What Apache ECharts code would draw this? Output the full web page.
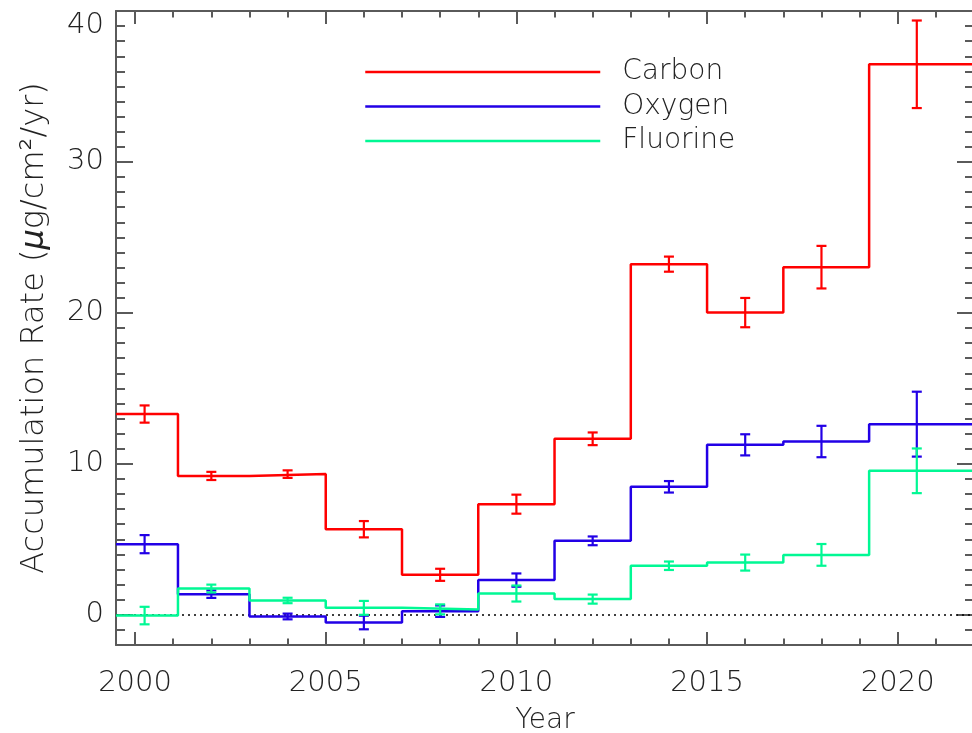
<!DOCTYPE html>
<html><head><meta charset="utf-8">
<script src="https://cdn.jsdelivr.net/npm/echarts@6/dist/echarts.min.js"></script>
<style>html,body{margin:0;padding:0;background:#fff}#c{width:972px;height:733px}</style>
</head><body><div id="c"></div>
<script>
// ---- data ----
const binEdges   = [1999.5, 2001.125, 2003, 2005, 2007, 2009, 2011, 2013, 2015, 2017, 2019.25, 2022];
const binCenters = [2000.25, 2002, 2004, 2006, 2008, 2010, 2012, 2014, 2016, 2018, 2020.5];

const carbonVals   = [13.30, 9.20, 9.32, 5.67, 2.65, 7.33, 11.66, 23.23, 20.02, 23.03, 36.47];
const carbonErrs   = [0.57, 0.27, 0.25, 0.54, 0.40, 0.63, 0.42, 0.50, 0.97, 1.41, 2.90];
const oxygenVals   = [4.68, 1.37, -0.11, -0.51, 0.24, 2.30, 4.90, 8.48, 11.26, 11.48, 12.63];
const oxygenErrs   = [0.60, 0.25, 0.19, 0.45, 0.38, 0.44, 0.29, 0.38, 0.70, 1.04, 2.15];
const fluorineVals = [-0.05, 1.74, 0.95, 0.46, 0.36, 1.41, 1.04, 3.25, 3.46, 3.97, 9.54];
const fluorineErrs = [0.58, 0.26, 0.18, 0.46, 0.33, 0.53, 0.30, 0.28, 0.53, 0.72, 1.48];

const seriesNames = ['Carbon', 'Oxygen', 'Fluorine'];

const xMajorTicks = [2000, 2005, 2010, 2015, 2020];
const xMinorTicks = [2001, 2002, 2003, 2004, 2006, 2007, 2008, 2009, 2011, 2012, 2013, 2014, 2016, 2017, 2018, 2019, 2021];
const yMajorTicks = [0, 10, 20, 30, 40];
const yMinorTicks = [-2, -1, 1, 2, 3, 4, 5, 6, 7, 8, 9, 11, 12, 13, 14, 15, 16, 17, 18, 19, 21, 22, 23, 24, 25, 26, 27, 28, 29, 31, 32, 33, 34, 35, 36, 37, 38, 39];

// ---- styling ----
const FONT = 'DejaVu Sans';
const FW = 200;
const colors = ['#ff0000', '#2200e6', '#00f894'];
const axisColor = '#5a5a5a';
const X_MIN = 1999.5, X_MAX = 2022, Y_MIN = -2, Y_MAX = 40;

function stepData(vals) {
  const d = vals.map((v, i) => [binEdges[i], v]);
  d.push([binEdges[binEdges.length - 1], vals[vals.length - 1]]);
  return d;
}
function errData(vals, errs) {
  return binCenters.map((c, i) => [c, vals[i], errs[i]]);
}
function errRender(color) {
  return function (params, api) {
    const x = api.value(0), v = api.value(1), e = api.value(2);
    const p1 = api.coord([x, v + e]);
    const p2 = api.coord([x, v - e]);
    const w = 5;
    const st = { stroke: color, lineWidth: 2.2, fill: null };
    return {
      type: 'group',
      children: [
        { type: 'line', shape: { x1: p1[0], y1: p1[1], x2: p2[0], y2: p2[1] }, style: st },
        { type: 'line', shape: { x1: p1[0] - w, y1: p1[1], x2: p1[0] + w, y2: p1[1] }, style: st },
        { type: 'line', shape: { x1: p2[0] - w, y1: p2[1], x2: p2[0] + w, y2: p2[1] }, style: st }
      ]
    };
  };
}

function xAx(pos, major, showLine) {
  return {
    type: 'value', position: pos, min: X_MIN, max: X_MAX,
    axisLine: { show: showLine, onZero: false, lineStyle: { color: axisColor, width: 2 } },
    axisTick: { show: true, inside: true, length: major ? 13 : 6.5, customValues: major ? xMajorTicks : xMinorTicks,
                lineStyle: { color: axisColor, width: 2 } },
    axisLabel: { show: false },
    splitLine: { show: false }
  };
}
function yAx(pos, major, showLine) {
  return {
    type: 'value', position: pos, min: Y_MIN, max: Y_MAX,
    axisLine: { show: showLine, onZero: false, lineStyle: { color: axisColor, width: 2 } },
    axisTick: { show: true, inside: true, length: major ? 17 : 9, customValues: major ? yMajorTicks : yMinorTicks,
                lineStyle: { color: axisColor, width: 2 } },
    axisLabel: { show: false },
    splitLine: { show: false }
  };
}

const xAxes = [xAx('bottom', true, true), xAx('bottom', false, false), xAx('top', true, true), xAx('top', false, false)];
xAxes[0].axisLabel = { show: true, customValues: xMajorTicks, margin: 24, fontSize: 29, fontFamily: FONT, fontWeight: FW, color: '#222',
                       formatter: v => String(v) };
xAxes[0].name = 'Year';
xAxes[0].nameLocation = 'middle';
xAxes[0].nameGap = 62;
xAxes[0].nameTextStyle = { fontSize: 28, fontFamily: FONT, fontWeight: FW, color: '#222' };

const yAxes = [yAx('left', true, true), yAx('left', false, false), yAx('right', true, true), yAx('right', false, false)];
yAxes[0].axisLabel = { show: true, customValues: yMajorTicks, margin: 12, fontSize: 29, fontFamily: FONT, fontWeight: FW, color: '#222',
                       verticalAlignMaxLabel: 'top', formatter: v => String(v) };
yAxes[0].name = 'Accumulation Rate ({mu|μ}g/cm²/yr)';
yAxes[0].nameLocation = 'middle';
yAxes[0].nameGap = 65;
yAxes[0].nameTextStyle = { fontSize: 32, fontFamily: FONT, fontWeight: FW, color: '#222',
  rich: { mu: { fontSize: 32, fontFamily: FONT, fontWeight: FW, color: '#222', fontStyle: 'italic' } } };

const series = [];
const valsList = [carbonVals, oxygenVals, fluorineVals];
const errsList = [carbonErrs, oxygenErrs, fluorineErrs];
seriesNames.forEach((name, k) => {
  const s = {
    name: name, type: 'line', step: 'end', xAxisIndex: 0, yAxisIndex: 0,
    data: stepData(valsList[k]), symbol: 'none', showSymbol: false,
    lineStyle: { color: colors[k], width: 2.5 }, itemStyle: { color: colors[k] },
    z: 3 + k
  };
  if (k === 0) {
    s.markLine = {
      silent: true, symbol: ['none', 'none'], label: { show: false },
      lineStyle: { type: [2, 4], color: '#000', width: 1.5 },
      data: [{ yAxis: 0 }], z: 1
    };
  }
  series.push(s);
  series.push({
    name: name + ' err', type: 'custom', xAxisIndex: 0, yAxisIndex: 0,
    data: errData(valsList[k], errsList[k]), encode: { x: 0, y: 1 },
    renderItem: errRender(colors[k]), z: 3 + k
  });
});

const chart = echarts.init(document.getElementById('c'), null, { renderer: 'canvas' });
chart.setOption({
  animation: false,
  backgroundColor: '#fff',
  grid: { left: 116, top: 11, width: 858, height: 634, containLabel: false, outerBoundsMode: 'none' },
  legend: {
    data: seriesNames,
    orient: 'vertical', left: 359, top: 53,
    itemWidth: 235, itemHeight: 14, itemGap: 6.5,
    itemStyle: { opacity: 0 },
    lineStyle: { width: 2.5 },
    textStyle: { fontSize: 28, fontFamily: FONT, fontWeight: FW, color: '#222', lineHeight: 28, padding: [0, 0, 0, 17] }
  },
  xAxis: xAxes,
  yAxis: yAxes,
  series: series
});
</script></body></html>
